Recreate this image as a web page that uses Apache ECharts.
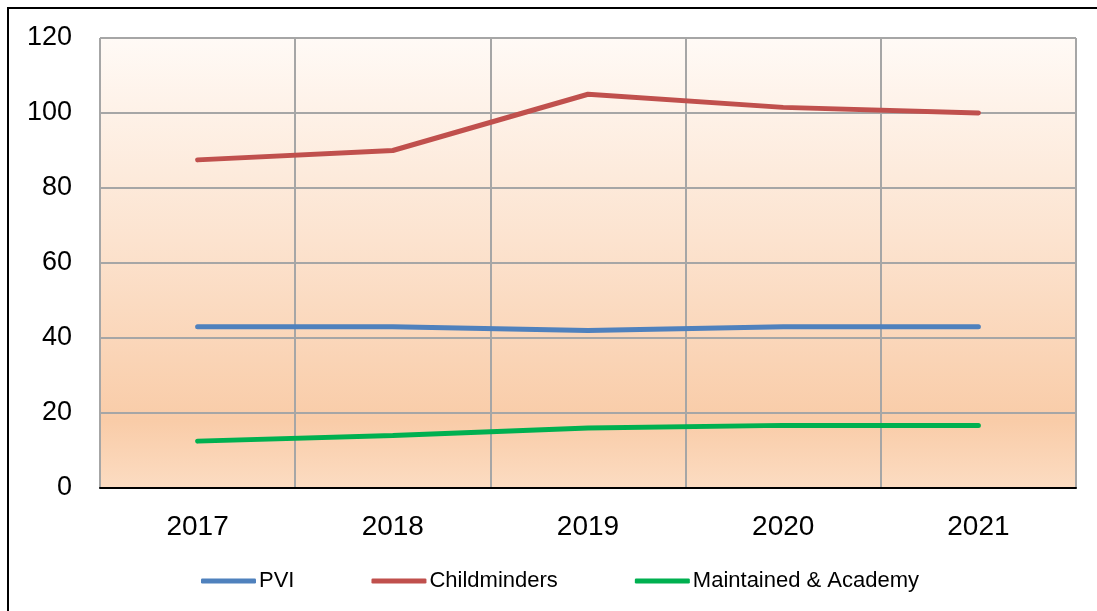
<!DOCTYPE html>
<html>
<head>
<meta charset="utf-8">
<script src="https://cdn.jsdelivr.net/npm/echarts@6/dist/echarts.min.js"></script>
<style>
html,body{margin:0;padding:0;background:#fff;}
#frame{position:absolute;left:7px;top:7px;width:1090px;height:604px;border-left:2px solid #000;border-top:2px solid #000;box-sizing:border-box;}
#main{position:absolute;left:0;top:0;width:1097px;height:611px;}
</style>
</head>
<body>
<div id="frame"></div>
<div id="main"></div>
<script>
// 数据
var years=['2017','2018','2019','2020','2021'];
var pvi=[43,43,42,43,43];
var childminders=[87.5,90,105,101.5,100];
var maintained=[12.5,14,16,16.7,16.7];
var seriesNames=['PVI','Childminders','Maintained & Academy'];
var colors=['#4f81bd','#c0504d','#00b050'];

var myChart=echarts.init(document.getElementById('main'));

function line(name,data,color){
	return {
		name:name,
		type:'line',
		data:data,
		symbol:'none',
		lineStyle:{color:color,width:5,cap:'round'},
		itemStyle:{color:color}
	};
}

var option={
	animation:false,
	grid:{
		left:100,right:21,top:38,bottom:123,
		show:true,
		borderColor:'#a6a6a6',
		borderWidth:1,
		backgroundColor:new echarts.graphic.LinearGradient(0,0,0,1,[
			{offset:0,color:'#fffaf6'},
			{offset:0.45,color:'#fce3cf'},
			{offset:0.85,color:'#f9cca8'},
			{offset:1,color:'#fcdcc2'}
		])
	},
	legend:{
		left:196,
		top:565,
		itemWidth:55,
		itemHeight:5,
		itemGap:77,
		icon:'roundRect',
		textStyle:{fontFamily:'Liberation Sans',fontSize:22,color:'#000',padding:[0,0,0,-2]},
		data:seriesNames
	},
	xAxis:{
		type:'category',
		data:years,
		boundaryGap:true,
		axisLine:{lineStyle:{color:'#000',width:2}},
		axisTick:{show:false},
		axisLabel:{fontFamily:'Liberation Sans',fontSize:28,color:'#000',margin:25},
		splitLine:{show:true,lineStyle:{color:'#a6a6a6',width:2}}
	},
	yAxis:{
		type:'value',
		min:0,max:120,interval:20,
		axisLine:{show:false},
		axisTick:{show:false},
		axisLabel:{fontFamily:'Liberation Sans',fontSize:27,color:'#000',margin:28},
		splitLine:{lineStyle:{color:'#a6a6a6',width:2}}
	},
	series:[
		line(seriesNames[0],pvi,colors[0]),
		line(seriesNames[1],childminders,colors[1]),
		line(seriesNames[2],maintained,colors[2])
	]
};
myChart.setOption(option);
</script>
</body>
</html>
